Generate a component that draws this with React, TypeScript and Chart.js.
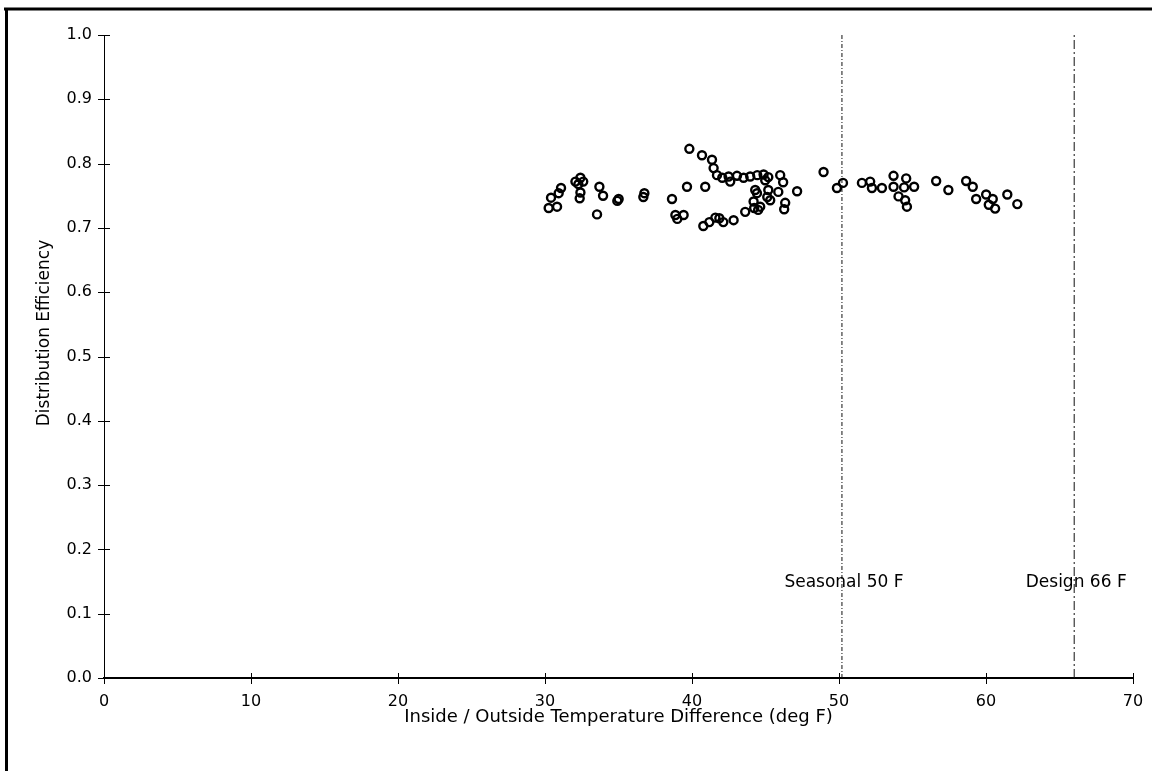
import React, { useEffect, useRef } from "react";
import { Chart, registerables } from "chart.js";

Chart.register(...registerables);

// Measured data (Inside/Outside temperature difference, deg F) vs distribution efficiency
const tempDiff = [
  30.25, 30.41, 30.82, 30.93, 31.09, 32.07, 32.41, 32.27, 32.6, 32.41, 32.36,
  33.7, 33.95, 33.54, 35.01, 34.92, 36.76, 36.69, 38.64, 38.87, 39.0, 39.43,
  39.66, 39.82, 40.68, 40.9, 41.36, 41.47, 41.7, 42.06, 42.49, 42.6, 43.06,
  43.51, 43.96, 44.44, 44.87, 44.98, 45.19, 46.0, 46.2, 44.3, 44.19, 44.42,
  44.64, 44.23, 44.5, 43.62, 45.19, 45.12, 45.32, 45.87, 46.34, 46.27, 47.15,
  42.83, 42.13, 41.59, 41.86, 41.18, 40.77, 48.95, 49.86, 50.27, 51.56, 52.12,
  52.24, 52.92, 53.71, 53.71, 54.05, 54.5, 54.62, 54.57, 54.43, 55.11, 56.61,
  57.44, 58.65, 59.1, 59.33, 60.01, 60.46, 60.19, 60.62, 61.45, 62.13,
];
const efficiency = [
  0.731, 0.747, 0.733, 0.754, 0.762, 0.772, 0.778, 0.768, 0.772, 0.755, 0.746,
  0.764, 0.75, 0.721, 0.745, 0.742, 0.754, 0.748, 0.745, 0.72, 0.714, 0.72,
  0.764, 0.823, 0.813, 0.764, 0.806, 0.793, 0.782, 0.778, 0.78, 0.772, 0.781,
  0.778, 0.78, 0.782, 0.783, 0.774, 0.779, 0.782, 0.771, 0.759, 0.741, 0.754,
  0.733, 0.731, 0.728, 0.725, 0.759, 0.748, 0.743, 0.756, 0.739, 0.729, 0.757,
  0.712, 0.709, 0.716, 0.715, 0.709, 0.703, 0.787, 0.762, 0.77, 0.77, 0.772,
  0.762, 0.762, 0.781, 0.764, 0.749, 0.743, 0.733, 0.777, 0.763, 0.764, 0.773,
  0.759, 0.773, 0.764, 0.745, 0.752, 0.745, 0.736, 0.73, 0.752, 0.737,
];

// Reference lines
const refLabels = ["Seasonal 50 F", "Design 66 F"];
const refX = [50.2, 66];
const refLabelY = 0.148;
const refDash = [
  [4, 2, 1, 2],
  [9, 3, 2, 3],
];

// Axes
const xMin = 0;
const xMax = 70;
const xStep = 10;
const yMin = 0;
const yMax = 1;
const yStep = 0.1;
const xTitle = "Inside / Outside Temperature Difference (deg F)";
const yTitle = "Distribution Efficiency";

const FONT = '"DejaVu Sans", Verdana, sans-serif';

export default function App() {
  const canvasRef = useRef<HTMLCanvasElement | null>(null);

  useEffect(() => {
    const canvas = canvasRef.current;
    if (!canvas) return;

    const points = tempDiff.map((x, i) => ({ x, y: efficiency[i] }));
    const refSets = refX.map((x, i) => ({
      label: refLabels[i],
      data: [
        { x, y: yMin },
        { x, y: yMax },
      ],
      showLine: true,
      borderColor: "#111",
      borderWidth: 1,
      borderDash: refDash[i],
      pointRadius: 0,
      pointHoverRadius: 0,
      order: 2,
    }));

    const decor = {
      id: "decor",
      afterDraw(chart: any) {
        const ctx = chart.ctx as CanvasRenderingContext2D;
        const xs = chart.scales.x;
        const ys = chart.scales.y;
        const area = chart.chartArea;
        ctx.save();
        // outer frame (top and left)
        ctx.strokeStyle = "#000";
        ctx.lineWidth = 3;
        ctx.beginPath();
        ctx.moveTo(4, 9);
        ctx.lineTo(1152, 9);
        ctx.moveTo(6.5, 8);
        ctx.lineTo(6.5, 771);
        ctx.stroke();

        // crossing tick marks
        ctx.lineWidth = 1;
        ctx.beginPath();
        for (let v = xMin; v <= xMax + 1e-9; v += xStep) {
          const px = Math.round(xs.getPixelForValue(v)) + 0.5;
          ctx.moveTo(px, area.bottom - 5);
          ctx.lineTo(px, area.bottom + 6);
        }
        for (let k = 0; k <= Math.round((yMax - yMin) / yStep); k++) {
          const py = Math.round(ys.getPixelForValue(yMin + k * yStep)) + 0.5;
          ctx.moveTo(area.left - 6, py);
          ctx.lineTo(area.left + 6, py);
        }
        ctx.stroke();

        // reference labels
        ctx.fillStyle = "#000";
        ctx.font = "17px " + FONT;
        ctx.textAlign = "center";
        ctx.textBaseline = "middle";
        refX.forEach((x, i) => {
          ctx.fillText(refLabels[i], xs.getPixelForValue(x) + 2, ys.getPixelForValue(refLabelY));
        });

        // axis titles
        ctx.font = "18px " + FONT;
        ctx.fillText(xTitle, (area.left + area.right) / 2, 717);
        ctx.font = "17px " + FONT;
        ctx.translate(45, 333);
        ctx.rotate(-Math.PI / 2);
        ctx.fillText(yTitle, 0, 0);
        ctx.restore();
      },
    };

    const chart = new Chart(canvas, {
      type: "scatter",
      data: {
        datasets: [
          {
            label: "Efficiency",
            data: points,
            pointRadius: 4,
            pointHoverRadius: 4,
            pointBorderWidth: 2.4,
            borderColor: "#000",
            pointBorderColor: "#000",
            backgroundColor: "rgba(255,255,255,0)",
            pointBackgroundColor: "rgba(255,255,255,0)",
            order: 1,
          },
          ...refSets,
        ] as any,
      },
      options: {
        responsive: false,
        animation: false,
        devicePixelRatio: 1,
        layout: { padding: { left: 0, top: 35, right: 21, bottom: 0 } },
        plugins: {
          legend: { display: false },
          tooltip: { enabled: false },
        },
        scales: {
          x: {
            type: "linear",
            min: xMin,
            max: xMax,
            afterFit: (s: any) => {
              s.height = 93;
            },
            ticks: {
              stepSize: xStep,
              color: "#000",
              font: { family: FONT, size: 16 },
              padding: 9,
              maxRotation: 0,
            },
            grid: { display: false, tickLength: 5 },
            border: { display: true, color: "#000", width: 2 },
          },
          y: {
            type: "linear",
            min: yMin,
            max: yMax,
            afterFit: (s: any) => {
              s.width = 104;
            },
            ticks: {
              stepSize: yStep,
              color: "#000",
              font: { family: FONT, size: 16 },
              padding: 6,
              callback: (v: any) => Number(v).toFixed(1),
            },
            grid: { display: false, tickLength: 6 },
            border: { display: true, color: "#000", width: 1 },
          },
        },
      },
      plugins: [decor],
    });

    return () => chart.destroy();
  }, []);

  return (
    <div style={{ position: "absolute", left: 0, top: 0, width: 1154, height: 771, background: "#fff" }}>
      <canvas ref={canvasRef} width={1154} height={771} style={{ display: "block" }} />
    </div>
  );
}
